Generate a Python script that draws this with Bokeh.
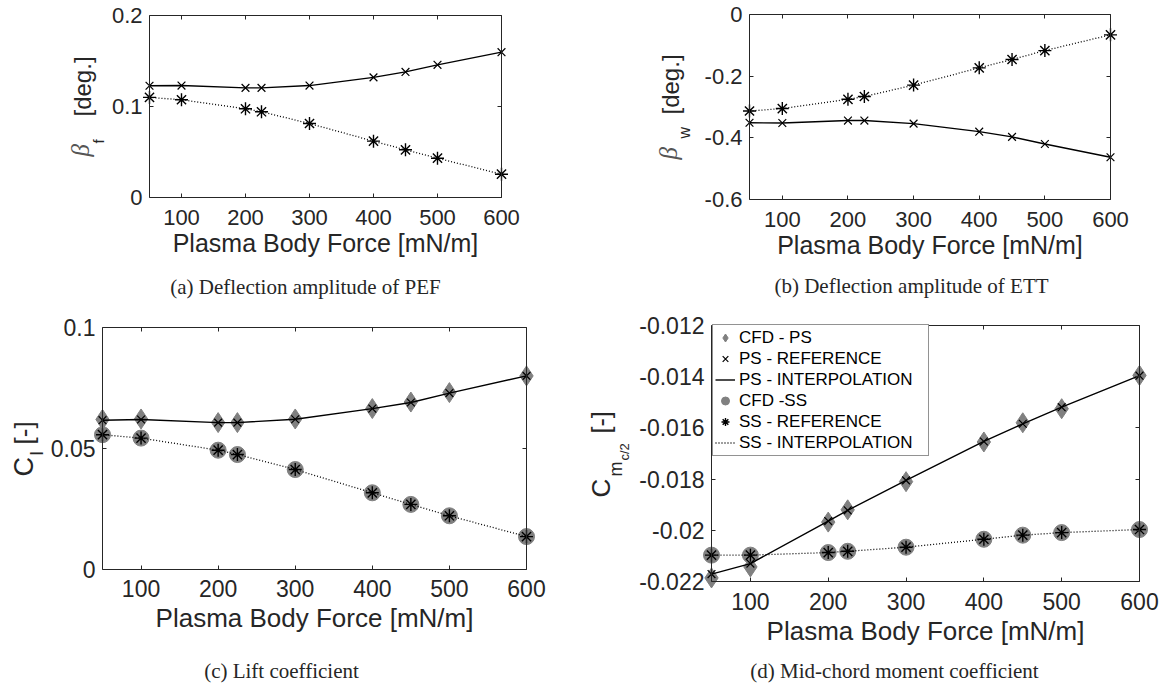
import math
from bokeh.plotting import figure
from bokeh.models import Range1d, FixedTicker, LinearAxis, Label, Legend, LegendItem
from bokeh.layouts import column, row
from bokeh.embed import file_html
from bokeh.resources import INLINE

# ---------------- data ----------------
force = [50, 100, 200, 225, 300, 400, 450, 500, 600]
x_tick_values = [100, 200, 300, 400, 500, 600]

beta_f_ps = [0.1228, 0.1230, 0.1205, 0.1205, 0.1230, 0.1320, 0.1380, 0.1458, 0.1597]
beta_f_ss = [0.1100, 0.1074, 0.0975, 0.0942, 0.0813, 0.0619, 0.0524, 0.0432, 0.0256]

beta_w_ps = [-0.351, -0.352, -0.344, -0.344, -0.354, -0.380, -0.397, -0.420, -0.463]
beta_w_ss = [-0.313, -0.305, -0.275, -0.266, -0.229, -0.173, -0.146, -0.117, -0.066]

cl_ps_ref = [0.0617, 0.0620, 0.0607, 0.0607, 0.0621, 0.0665, 0.0690, 0.0729, 0.0800]
cl_ps_cfd = [0.0620, 0.0622, 0.0607, 0.0607, 0.0622, 0.0665, 0.0692, 0.0731, 0.0800]
cl_ss_ref = [0.0557, 0.0543, 0.0493, 0.0475, 0.0413, 0.0317, 0.0269, 0.0222, 0.0136]
cl_ss_cfd = [0.0557, 0.0543, 0.0493, 0.0475, 0.0413, 0.0317, 0.0269, 0.0222, 0.0136]

cm_ps_ref = [-0.02171, -0.02130, -0.01964, -0.01922, -0.01805, -0.01653, -0.01584, -0.01519, -0.01396]
cm_ps_cfd = [-0.02186, -0.02143, -0.01968, -0.01920, -0.01810, -0.01655, -0.01580, -0.01525, -0.01395]
cm_ss_ref = [-0.02097, -0.02097, -0.02087, -0.02082, -0.02066, -0.02035, -0.02019, -0.02009, -0.01997]
cm_ss_cfd = [-0.02097, -0.02097, -0.02087, -0.02082, -0.02066, -0.02035, -0.02019, -0.02009, -0.01997]

x_limits = (50, 600)
ylim_a, ticks_a, labels_a = (0, 0.2), [0, 0.1, 0.2], ["0", "0.1", "0.2"]
ylim_b, ticks_b, labels_b = (-0.6, 0), [-0.6, -0.4, -0.2, 0], ["-0.6", "-0.4", "-0.2", "0"]
ylim_c, ticks_c, labels_c = (0, 0.1), [0, 0.05, 0.1], ["0", "0.05", "0.1"]
ylim_d = (-0.022, -0.012)
ticks_d = [-0.022, -0.02, -0.018, -0.016, -0.014, -0.012]
labels_d = ["-0.022", "-0.02", "-0.018", "-0.016", "-0.014", "-0.012"]

legend_labels = ["CFD - PS", "PS - REFERENCE", "PS - INTERPOLATION",
                 "CFD -SS", "SS - REFERENCE", "SS - INTERPOLATION"]
x_title = "Plasma Body Force [mN/m]"
captions = ["(a) Deflection amplitude of PEF", "(b) Deflection amplitude of ETT",
            "(c) Lift coefficient", "(d) Mid-chord moment coefficient"]

# ---------------- style ----------------
AX = "#262626"
GRAY = "#808080"
SANS = "Liberation Sans"
SERIF = "Liberation Serif"


class Panel:
    """A figure whose frame fills the whole canvas; the axes box sits at a pixel box inside it."""

    def __init__(self, x0, y0, W, H, box, ylim, y_ticks, y_labels, tick_fs, label_fs,
                 xstand, xlabstand):
        L, R, T, B = box  # pixel box of the axes, figure-local, from top-left
        self.x0, self.y0, self.W, self.H = x0, y0, W, H
        sx = (x_limits[1] - x_limits[0]) / (R - L)
        sy = (ylim[1] - ylim[0]) / (B - T)
        xr = Range1d(x_limits[0] - L * sx, x_limits[1] + (W - R) * sx)
        yr = Range1d(ylim[0] - (H - B) * sy, ylim[1] + T * sy)
        p = figure(width=W, height=H, x_range=xr, y_range=yr, output_backend="svg",
                   toolbar_location=None, x_axis_location=None, y_axis_location=None,
                   min_border=0, min_border_left=0, min_border_right=0,
                   min_border_top=0, min_border_bottom=0,
                   background_fill_color="white", border_fill_color="white")
        p.xgrid.visible = False
        p.ygrid.visible = False
        p.outline_line_color = None
        xt = FixedTicker(ticks=x_tick_values)
        yt = FixedTicker(ticks=y_ticks)
        bx = LinearAxis(ticker=xt, fixed_location=ylim[0], bounds=x_limits)
        tx = LinearAxis(ticker=xt, fixed_location=ylim[1], bounds=x_limits)
        ly = LinearAxis(ticker=yt, fixed_location=x_limits[0], bounds=ylim)
        ry = LinearAxis(ticker=yt, fixed_location=x_limits[1], bounds=ylim)
        p.add_layout(bx, "below")
        p.add_layout(tx, "above")
        p.add_layout(ly, "left")
        p.add_layout(ry, "right")
        for ax in (bx, tx, ly, ry):
            ax.major_tick_in = 4
            ax.major_tick_out = 0
            ax.minor_tick_line_color = None
            ax.axis_line_color = AX
            ax.major_tick_line_color = AX
            ax.major_label_text_font = SANS
            ax.major_label_text_font_size = f"{tick_fs}px"
            ax.major_label_text_color = AX
        for ax in (tx, ry):
            ax.major_label_text_color = None
        ly.major_label_overrides = {t: l for t, l in zip(y_ticks, y_labels)}
        ly.major_label_standoff = 7
        bx.major_label_standoff = xstand
        bx.axis_label = x_title
        bx.axis_label_text_font = SANS
        bx.axis_label_text_font_size = f"{label_fs}px"
        bx.axis_label_text_font_style = "normal"
        bx.axis_label_text_color = AX
        bx.axis_label_standoff = xlabstand
        self.p = p

    def text(self, ax, ay, text, font, size, style="normal", angle=math.pi / 2,
             align="left", color=AX):
        # (ax, ay): page position of the text's vertical middle / start
        lab = Label(x=ax - self.x0, y=self.y0 + self.H - ay, x_units="screen", y_units="screen",
                    text=text, angle=angle, text_font=font, text_font_size=f"{size}px",
                    text_font_style=style, text_align=align, text_baseline="middle",
                    text_color=color)
        self.p.add_layout(lab)


def ps_ss(p, x, ps, ss):
    r1 = p.line(x, ps, line_color="black", line_width=1.4)
    r2 = p.line(x, ss, line_color="black", line_width=1.3, line_dash="1 2")
    r3 = p.scatter(x, ps, marker="x", size=11, line_color="black", line_width=1.2)
    r4 = p.scatter(x, ss, marker="asterisk", size=13, line_color="black", line_width=1.4)
    return r1, r2, r3, r4


# ---------------- panel (a) ----------------
A = Panel(0, 0, 585, 300, (149, 501, 15, 197), ylim_a, ticks_a, labels_a, 22, 25, 12, 1)
ps_ss(A.p, force, beta_f_ps, beta_f_ss)
A.text(80, 156, "β", SERIF, 25, "italic", color="#555555")
A.text(98, 143, "f", SANS, 15)
A.text(82, 116, "[deg.]", SANS, 24)
A.text(305, 286, captions[0], SERIF, 21, angle=0, align="center")

# ---------------- panel (b) ----------------
B = Panel(585, 0, 585, 300, (164, 525, 14, 199), ylim_b, ticks_b, labels_b, 22, 25, 12, 1)
ps_ss(B.p, force, beta_w_ps, beta_w_ss)
B.text(668, 159, "β", SERIF, 25, "italic", color="#555555")
B.text(684, 138, "w", SANS, 16)
B.text(670, 114, "[deg.]", SANS, 24)
B.text(911, 285, captions[1], SERIF, 21, angle=0, align="center")

# ---------------- panel (c) ----------------
C = Panel(0, 300, 585, 386, (102, 526, 27, 269), ylim_c, ticks_c, labels_c, 23, 26, 10, 3)
C.p.scatter(force, cl_ps_cfd, marker="diamond", size=20, fill_color=GRAY, line_color=GRAY)
C.p.scatter(force, cl_ss_cfd, marker="circle", size=16, fill_color=GRAY, line_color=GRAY)
ps_ss(C.p, force, cl_ps_ref, cl_ss_ref)
C.text(23, 476, "C", SANS, 27)
C.text(36, 455, "l", SANS, 19)
C.text(23, 444, "[-]", SANS, 26)
C.text(281, 670, captions[2], SERIF, 21, angle=0, align="center")

# ---------------- panel (d) ----------------
D = Panel(585, 300, 585, 386, (126, 554, 25, 281), ylim_d, ticks_d, labels_d, 23, 26, 11, 3)
pd_ = D.p
r_cfd_ps = pd_.scatter(force, cm_ps_cfd, marker="diamond", size=20, fill_color=GRAY, line_color=GRAY)
r_cfd_ss = pd_.scatter(force, cm_ss_cfd, marker="circle", size=16, fill_color=GRAY, line_color=GRAY)
r_int_ps, r_int_ss, r_ref_ps, r_ref_ss = ps_ss(pd_, force, cm_ps_ref, cm_ss_ref)
legend = Legend(items=[
    LegendItem(label=legend_labels[0], renderers=[r_cfd_ps]),
    LegendItem(label=legend_labels[1], renderers=[r_ref_ps]),
    LegendItem(label=legend_labels[2], renderers=[r_int_ps]),
    LegendItem(label=legend_labels[3], renderers=[r_cfd_ss]),
    LegendItem(label=legend_labels[4], renderers=[r_ref_ss]),
    LegendItem(label=legend_labels[5], renderers=[r_int_ss]),
], location=(127, 230))
legend.margin = 0
legend.padding = 2
legend.spacing = 0
legend.glyph_width = 20
legend.glyph_height = 21
legend.label_height = 21
legend.label_width = 187
legend.label_standoff = 4
legend.label_text_font = SANS
legend.label_text_font_size = "17px"
legend.label_text_color = "black"
legend.border_line_color = AX
legend.border_line_width = 1
legend.background_fill_color = "white"
legend.background_fill_alpha = 1
pd_.add_layout(legend)
D.text(600, 497, "C", SANS, 26)
D.text(615, 476, "m", SANS, 18)
D.text(624, 460, "c/2", SANS, 13)
D.text(600, 433, "[-]", SANS, 25)
D.text(894, 670, captions[3], SERIF, 21, angle=0, align="center")

layout = column(row(A.p, B.p), row(C.p, D.p))
open("out.html", "w").write(file_html(layout, INLINE))
